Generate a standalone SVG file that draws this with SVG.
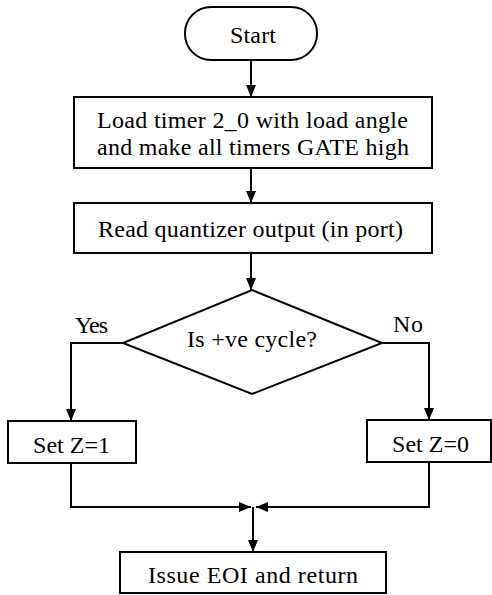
<svg xmlns="http://www.w3.org/2000/svg" width="492" height="595" viewBox="0 0 492 595">
  <style>
    .box { fill: #fff; stroke: #000; stroke-width: 2; }
    .line { fill: none; stroke: #000; stroke-width: 2; }
    .t { font-family: 'Liberation Serif', 'Times New Roman', serif; font-size: 24px; fill: #000; }
  </style>
  <defs>
    <marker id="arrow" viewBox="0 0 12 10" refX="12" refY="5" markerWidth="6" markerHeight="5" markerUnits="strokeWidth" orient="auto">
      <path d="M0,0 L12,5 L0,10 Z" fill="#000"/>
    </marker>
  </defs>
  <rect width="492" height="595" fill="#fff"/>

  <g id="connectors">
    <path class="line" d="M251,60 V97" marker-end="url(#arrow)"/>
    <path class="line" d="M251,168 V203" marker-end="url(#arrow)"/>
    <path class="line" d="M251,253 V290" marker-end="url(#arrow)"/>
    <path class="line" d="M123,343 H71 V421" marker-end="url(#arrow)"/>
    <path class="line" d="M382,343 H429 V420" marker-end="url(#arrow)"/>
    <path class="line" d="M71,463 V507 H251" marker-end="url(#arrow)"/>
    <path class="line" d="M429,462 V507 H256" marker-end="url(#arrow)"/>
    <path class="line" d="M253,507 V552" marker-end="url(#arrow)"/>
  </g>

  <g id="start">
    <rect class="box" x="185" y="7" width="132" height="53" rx="26" ry="26"/>
    <text class="t" x="230" y="43" textLength="46">Start</text>
  </g>

  <g id="load-timer">
    <rect class="box" x="74" y="97" width="358" height="71"/>
    <text class="t" x="97" y="127.5" textLength="311">Load timer 2_0 with load angle</text>
    <text class="t" x="97" y="155" textLength="312">and make all timers GATE high</text>
  </g>

  <g id="read-quantizer">
    <rect class="box" x="74" y="203" width="358" height="50"/>
    <text class="t" x="98" y="236.5" textLength="305">Read quantizer output (in port)</text>
  </g>

  <g id="decision">
    <polygon class="box" points="252,290 382,343 252,394 123,343"/>
    <text class="t" x="187" y="347" textLength="130">Is +ve cycle?</text>
    <text class="t" x="75" y="333" textLength="33">Yes</text>
    <text class="t" x="393" y="332" textLength="30">No</text>
  </g>

  <g id="set-z1">
    <rect class="box" x="8" y="421" width="128" height="42"/>
    <text class="t" x="33" y="452.5" textLength="77">Set Z=1</text>
  </g>

  <g id="set-z0">
    <rect class="box" x="367" y="420" width="124" height="42"/>
    <text class="t" x="392" y="452" textLength="77">Set Z=0</text>
  </g>

  <g id="issue-eoi">
    <rect class="box" x="120" y="552" width="266" height="41"/>
    <text class="t" x="148" y="582.5" textLength="210">Issue EOI and return</text>
  </g>
</svg>
